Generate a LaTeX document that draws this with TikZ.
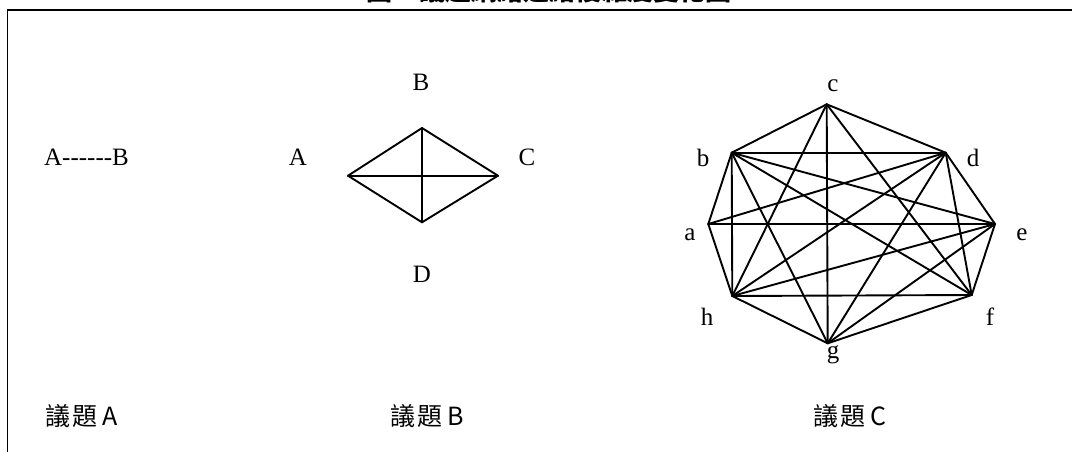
\documentclass[tikz,border=0pt]{standalone}
\usepackage{fontspec}
\setmainfont{Liberation Serif}
\newfontfamily\cjk{Noto Sans CJK TC}
\begin{document}
\begin{tikzpicture}[x=1pt,y=-1pt,
  edge/.style={line width=1.9pt, line cap=round, line join=round},
  lbl/.style={font=\fontsize{25}{30}\selectfont, inner sep=0pt, anchor=base},
  capt/.style={font=\cjk\fontsize{25}{30}\selectfont, inner sep=0pt, anchor=base west}]
\useasboundingbox (0,0) rectangle (1072,451);
% frame
\coordinate (fTL) at (7.5,10);
\coordinate (fTR) at (1080,10);
\coordinate (fBL) at (7.5,460);
\draw[line width=1.8pt] (fTR) -- (fTL) -- (fBL);
% title (clipped at the top, as in the reference)
\node[anchor=base west, inner sep=0pt, font=\cjk\bfseries\fontsize{26}{28}\selectfont] (title) at (366,0.5) {圖 1 議題網絡連結複雜度變化圖};
% issue A
\node[lbl, anchor=base west] (ab) at (44,165) {A{-}{-}{-}{-}{-}{-}B};
% issue B
\coordinate (L) at (348,175.7);
\coordinate (T) at (422,128);
\coordinate (R) at (498,175.7);
\coordinate (D) at (422,222.3);
\draw[edge] (L) -- (T) -- (R) -- (D) -- (L);
\draw[edge] (L) -- (R);
\draw[edge] (T) -- (D);
\node[lbl] (lB) at (421,90) {B};
\node[lbl] (lA) at (298,165) {A};
\node[lbl] (lC) at (527,165) {C};
\node[lbl] (lD) at (422,282) {D};
% issue C
\coordinate (c) at (826.7,104.3);
\coordinate (b) at (731.7,152.7);
\coordinate (d) at (945.7,152.7);
\coordinate (a) at (708.3,224);
\coordinate (e) at (995,224);
\coordinate (h) at (732.3,296);
\coordinate (f) at (971.7,295);
\coordinate (g) at (827.7,343.3);
\foreach \u/\v in {b/a,b/c,b/d,b/e,b/f,b/g,b/h,
                   d/a,d/c,d/e,d/f,d/g,d/h,
                   h/a,h/c,h/e,h/f,h/g,
                   c/f,c/g,e/a,e/f,e/g,f/g}
  \draw[edge] (\u) -- (\v);
\node[lbl] (lc) at (833,91.7) {c};
\node[lbl] (lb) at (703,166) {b};
\node[lbl] (ld) at (973,166) {d};
\node[lbl] (la) at (690,240) {a};
\node[lbl] (le) at (1022,240) {e};
\node[lbl] (lh) at (707,325) {h};
\node[lbl] (lf) at (990,325) {f};
\node[lbl] (lg) at (833,358) {g};
% captions
\node[capt] (cA) at (45,425) {議\hspace{2pt}題\hspace{5pt}A};
\node[capt] (cB) at (390,425) {議\hspace{2pt}題\hspace{5pt}B};
\node[capt] (cC) at (813,425) {議\hspace{2pt}題\hspace{5pt}C};
\end{tikzpicture}
\end{document}
